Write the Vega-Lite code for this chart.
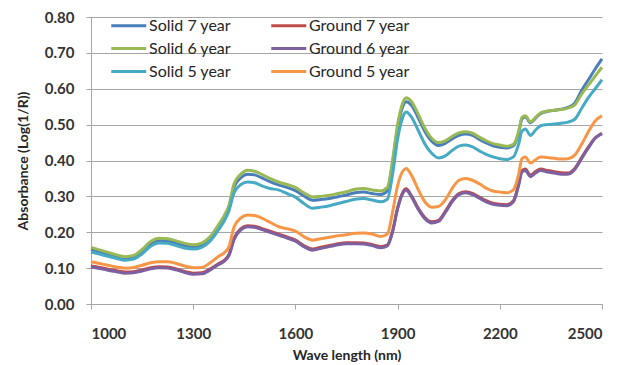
{
  "$schema": "https://vega.github.io/schema/vega-lite/v6.json",
  "width": 511,
  "height": 287,
  "autosize": "none",
  "padding": {"left": 91, "top": 17, "right": 18, "bottom": 61},
  "background": "white",
  "data": {
    "values": [
      {"nm": 1000, "Solid 7 year": 0.152, "Ground 7 year": 0.106, "Solid 6 year": 0.158, "Ground 6 year": 0.103, "Solid 5 year": 0.145, "Ground 5 year": 0.118},
      {"nm": 1025, "Solid 7 year": 0.145, "Ground 7 year": 0.102, "Solid 6 year": 0.151, "Ground 6 year": 0.099, "Solid 5 year": 0.139, "Ground 5 year": 0.113},
      {"nm": 1050, "Solid 7 year": 0.138, "Ground 7 year": 0.097, "Solid 6 year": 0.144, "Ground 6 year": 0.094, "Solid 5 year": 0.133, "Ground 5 year": 0.108},
      {"nm": 1075, "Solid 7 year": 0.131, "Ground 7 year": 0.093, "Solid 6 year": 0.137, "Ground 6 year": 0.090, "Solid 5 year": 0.127, "Ground 5 year": 0.103},
      {"nm": 1100, "Solid 7 year": 0.126, "Ground 7 year": 0.089, "Solid 6 year": 0.132, "Ground 6 year": 0.086, "Solid 5 year": 0.122, "Ground 5 year": 0.100},
      {"nm": 1125, "Solid 7 year": 0.129, "Ground 7 year": 0.090, "Solid 6 year": 0.135, "Ground 6 year": 0.087, "Solid 5 year": 0.125, "Ground 5 year": 0.102},
      {"nm": 1150, "Solid 7 year": 0.146, "Ground 7 year": 0.095, "Solid 6 year": 0.152, "Ground 6 year": 0.092, "Solid 5 year": 0.140, "Ground 5 year": 0.108},
      {"nm": 1175, "Solid 7 year": 0.167, "Ground 7 year": 0.101, "Solid 6 year": 0.174, "Ground 6 year": 0.098, "Solid 5 year": 0.161, "Ground 5 year": 0.115},
      {"nm": 1200, "Solid 7 year": 0.176, "Ground 7 year": 0.104, "Solid 6 year": 0.183, "Ground 6 year": 0.101, "Solid 5 year": 0.170, "Ground 5 year": 0.118},
      {"nm": 1225, "Solid 7 year": 0.175, "Ground 7 year": 0.103, "Solid 6 year": 0.182, "Ground 6 year": 0.100, "Solid 5 year": 0.169, "Ground 5 year": 0.118},
      {"nm": 1250, "Solid 7 year": 0.170, "Ground 7 year": 0.098, "Solid 6 year": 0.176, "Ground 6 year": 0.095, "Solid 5 year": 0.163, "Ground 5 year": 0.113},
      {"nm": 1275, "Solid 7 year": 0.163, "Ground 7 year": 0.091, "Solid 6 year": 0.169, "Ground 6 year": 0.088, "Solid 5 year": 0.156, "Ground 5 year": 0.106},
      {"nm": 1300, "Solid 7 year": 0.159, "Ground 7 year": 0.086, "Solid 6 year": 0.165, "Ground 6 year": 0.083, "Solid 5 year": 0.153, "Ground 5 year": 0.101},
      {"nm": 1325, "Solid 7 year": 0.164, "Ground 7 year": 0.087, "Solid 6 year": 0.170, "Ground 6 year": 0.084, "Solid 5 year": 0.158, "Ground 5 year": 0.102},
      {"nm": 1350, "Solid 7 year": 0.182, "Ground 7 year": 0.098, "Solid 6 year": 0.188, "Ground 6 year": 0.095, "Solid 5 year": 0.176, "Ground 5 year": 0.115},
      {"nm": 1375, "Solid 7 year": 0.215, "Ground 7 year": 0.113, "Solid 6 year": 0.222, "Ground 6 year": 0.110, "Solid 5 year": 0.208, "Ground 5 year": 0.133},
      {"nm": 1390, "Solid 7 year": 0.238, "Ground 7 year": 0.121, "Solid 6 year": 0.245, "Ground 6 year": 0.118, "Solid 5 year": 0.230, "Ground 5 year": 0.142},
      {"nm": 1405, "Solid 7 year": 0.268, "Ground 7 year": 0.138, "Solid 6 year": 0.275, "Ground 6 year": 0.135, "Solid 5 year": 0.260, "Ground 5 year": 0.160},
      {"nm": 1420, "Solid 7 year": 0.326, "Ground 7 year": 0.183, "Solid 6 year": 0.335, "Ground 6 year": 0.180, "Solid 5 year": 0.310, "Ground 5 year": 0.215},
      {"nm": 1440, "Solid 7 year": 0.352, "Ground 7 year": 0.210, "Solid 6 year": 0.362, "Ground 6 year": 0.207, "Solid 5 year": 0.333, "Ground 5 year": 0.240},
      {"nm": 1460, "Solid 7 year": 0.362, "Ground 7 year": 0.218, "Solid 6 year": 0.373, "Ground 6 year": 0.215, "Solid 5 year": 0.340, "Ground 5 year": 0.248},
      {"nm": 1480, "Solid 7 year": 0.360, "Ground 7 year": 0.217, "Solid 6 year": 0.370, "Ground 6 year": 0.214, "Solid 5 year": 0.338, "Ground 5 year": 0.247},
      {"nm": 1500, "Solid 7 year": 0.352, "Ground 7 year": 0.211, "Solid 6 year": 0.362, "Ground 6 year": 0.208, "Solid 5 year": 0.330, "Ground 5 year": 0.240},
      {"nm": 1525, "Solid 7 year": 0.341, "Ground 7 year": 0.203, "Solid 6 year": 0.350, "Ground 6 year": 0.200, "Solid 5 year": 0.322, "Ground 5 year": 0.228},
      {"nm": 1550, "Solid 7 year": 0.332, "Ground 7 year": 0.195, "Solid 6 year": 0.340, "Ground 6 year": 0.192, "Solid 5 year": 0.318, "Ground 5 year": 0.216},
      {"nm": 1575, "Solid 7 year": 0.325, "Ground 7 year": 0.187, "Solid 6 year": 0.333, "Ground 6 year": 0.184, "Solid 5 year": 0.308, "Ground 5 year": 0.210},
      {"nm": 1600, "Solid 7 year": 0.316, "Ground 7 year": 0.178, "Solid 6 year": 0.325, "Ground 6 year": 0.175, "Solid 5 year": 0.298, "Ground 5 year": 0.203},
      {"nm": 1625, "Solid 7 year": 0.301, "Ground 7 year": 0.163, "Solid 6 year": 0.310, "Ground 6 year": 0.160, "Solid 5 year": 0.280, "Ground 5 year": 0.188},
      {"nm": 1650, "Solid 7 year": 0.289, "Ground 7 year": 0.153, "Solid 6 year": 0.298, "Ground 6 year": 0.150, "Solid 5 year": 0.267, "Ground 5 year": 0.178},
      {"nm": 1675, "Solid 7 year": 0.291, "Ground 7 year": 0.158, "Solid 6 year": 0.300, "Ground 6 year": 0.155, "Solid 5 year": 0.270, "Ground 5 year": 0.182},
      {"nm": 1700, "Solid 7 year": 0.294, "Ground 7 year": 0.163, "Solid 6 year": 0.303, "Ground 6 year": 0.160, "Solid 5 year": 0.274, "Ground 5 year": 0.186},
      {"nm": 1725, "Solid 7 year": 0.299, "Ground 7 year": 0.168, "Solid 6 year": 0.308, "Ground 6 year": 0.165, "Solid 5 year": 0.280, "Ground 5 year": 0.190},
      {"nm": 1750, "Solid 7 year": 0.304, "Ground 7 year": 0.171, "Solid 6 year": 0.313, "Ground 6 year": 0.168, "Solid 5 year": 0.286, "Ground 5 year": 0.193},
      {"nm": 1775, "Solid 7 year": 0.310, "Ground 7 year": 0.171, "Solid 6 year": 0.320, "Ground 6 year": 0.168, "Solid 5 year": 0.292, "Ground 5 year": 0.197},
      {"nm": 1800, "Solid 7 year": 0.312, "Ground 7 year": 0.170, "Solid 6 year": 0.322, "Ground 6 year": 0.167, "Solid 5 year": 0.294, "Ground 5 year": 0.198},
      {"nm": 1825, "Solid 7 year": 0.308, "Ground 7 year": 0.166, "Solid 6 year": 0.318, "Ground 6 year": 0.163, "Solid 5 year": 0.290, "Ground 5 year": 0.195},
      {"nm": 1850, "Solid 7 year": 0.305, "Ground 7 year": 0.160, "Solid 6 year": 0.315, "Ground 6 year": 0.157, "Solid 5 year": 0.285, "Ground 5 year": 0.188},
      {"nm": 1870, "Solid 7 year": 0.315, "Ground 7 year": 0.165, "Solid 6 year": 0.325, "Ground 6 year": 0.162, "Solid 5 year": 0.292, "Ground 5 year": 0.195},
      {"nm": 1885, "Solid 7 year": 0.390, "Ground 7 year": 0.203, "Solid 6 year": 0.400, "Ground 6 year": 0.200, "Solid 5 year": 0.360, "Ground 5 year": 0.255},
      {"nm": 1900, "Solid 7 year": 0.490, "Ground 7 year": 0.268, "Solid 6 year": 0.500, "Ground 6 year": 0.265, "Solid 5 year": 0.460, "Ground 5 year": 0.330},
      {"nm": 1915, "Solid 7 year": 0.550, "Ground 7 year": 0.311, "Solid 6 year": 0.560, "Ground 6 year": 0.308, "Solid 5 year": 0.520, "Ground 5 year": 0.370},
      {"nm": 1925, "Solid 7 year": 0.564, "Ground 7 year": 0.321, "Solid 6 year": 0.575, "Ground 6 year": 0.318, "Solid 5 year": 0.535, "Ground 5 year": 0.378},
      {"nm": 1940, "Solid 7 year": 0.555, "Ground 7 year": 0.303, "Solid 6 year": 0.565, "Ground 6 year": 0.300, "Solid 5 year": 0.522, "Ground 5 year": 0.360},
      {"nm": 1960, "Solid 7 year": 0.520, "Ground 7 year": 0.268, "Solid 6 year": 0.530, "Ground 6 year": 0.265, "Solid 5 year": 0.485, "Ground 5 year": 0.320},
      {"nm": 1980, "Solid 7 year": 0.481, "Ground 7 year": 0.241, "Solid 6 year": 0.490, "Ground 6 year": 0.238, "Solid 5 year": 0.446, "Ground 5 year": 0.285},
      {"nm": 2000, "Solid 7 year": 0.454, "Ground 7 year": 0.229, "Solid 6 year": 0.462, "Ground 6 year": 0.226, "Solid 5 year": 0.420, "Ground 5 year": 0.270},
      {"nm": 2020, "Solid 7 year": 0.442, "Ground 7 year": 0.233, "Solid 6 year": 0.450, "Ground 6 year": 0.230, "Solid 5 year": 0.407, "Ground 5 year": 0.272},
      {"nm": 2040, "Solid 7 year": 0.448, "Ground 7 year": 0.258, "Solid 6 year": 0.455, "Ground 6 year": 0.255, "Solid 5 year": 0.413, "Ground 5 year": 0.290},
      {"nm": 2060, "Solid 7 year": 0.460, "Ground 7 year": 0.288, "Solid 6 year": 0.467, "Ground 6 year": 0.285, "Solid 5 year": 0.428, "Ground 5 year": 0.322},
      {"nm": 2080, "Solid 7 year": 0.470, "Ground 7 year": 0.308, "Solid 6 year": 0.477, "Ground 6 year": 0.305, "Solid 5 year": 0.440, "Ground 5 year": 0.345},
      {"nm": 2100, "Solid 7 year": 0.474, "Ground 7 year": 0.313, "Solid 6 year": 0.480, "Ground 6 year": 0.310, "Solid 5 year": 0.443, "Ground 5 year": 0.350},
      {"nm": 2120, "Solid 7 year": 0.470, "Ground 7 year": 0.308, "Solid 6 year": 0.476, "Ground 6 year": 0.305, "Solid 5 year": 0.438, "Ground 5 year": 0.345},
      {"nm": 2140, "Solid 7 year": 0.459, "Ground 7 year": 0.298, "Solid 6 year": 0.465, "Ground 6 year": 0.295, "Solid 5 year": 0.427, "Ground 5 year": 0.335},
      {"nm": 2160, "Solid 7 year": 0.449, "Ground 7 year": 0.288, "Solid 6 year": 0.455, "Ground 6 year": 0.285, "Solid 5 year": 0.417, "Ground 5 year": 0.323},
      {"nm": 2180, "Solid 7 year": 0.441, "Ground 7 year": 0.281, "Solid 6 year": 0.447, "Ground 6 year": 0.278, "Solid 5 year": 0.410, "Ground 5 year": 0.315},
      {"nm": 2200, "Solid 7 year": 0.437, "Ground 7 year": 0.278, "Solid 6 year": 0.443, "Ground 6 year": 0.275, "Solid 5 year": 0.405, "Ground 5 year": 0.312},
      {"nm": 2220, "Solid 7 year": 0.435, "Ground 7 year": 0.277, "Solid 6 year": 0.440, "Ground 6 year": 0.274, "Solid 5 year": 0.403, "Ground 5 year": 0.310},
      {"nm": 2240, "Solid 7 year": 0.441, "Ground 7 year": 0.288, "Solid 6 year": 0.445, "Ground 6 year": 0.285, "Solid 5 year": 0.410, "Ground 5 year": 0.318},
      {"nm": 2255, "Solid 7 year": 0.476, "Ground 7 year": 0.333, "Solid 6 year": 0.480, "Ground 6 year": 0.330, "Solid 5 year": 0.445, "Ground 5 year": 0.360},
      {"nm": 2265, "Solid 7 year": 0.516, "Ground 7 year": 0.371, "Solid 6 year": 0.520, "Ground 6 year": 0.368, "Solid 5 year": 0.482, "Ground 5 year": 0.405},
      {"nm": 2275, "Solid 7 year": 0.522, "Ground 7 year": 0.376, "Solid 6 year": 0.525, "Ground 6 year": 0.372, "Solid 5 year": 0.488, "Ground 5 year": 0.410},
      {"nm": 2290, "Solid 7 year": 0.505, "Ground 7 year": 0.359, "Solid 6 year": 0.508, "Ground 6 year": 0.355, "Solid 5 year": 0.470, "Ground 5 year": 0.393},
      {"nm": 2305, "Solid 7 year": 0.518, "Ground 7 year": 0.369, "Solid 6 year": 0.520, "Ground 6 year": 0.365, "Solid 5 year": 0.485, "Ground 5 year": 0.402},
      {"nm": 2320, "Solid 7 year": 0.531, "Ground 7 year": 0.376, "Solid 6 year": 0.533, "Ground 6 year": 0.372, "Solid 5 year": 0.497, "Ground 5 year": 0.410},
      {"nm": 2340, "Solid 7 year": 0.537, "Ground 7 year": 0.372, "Solid 6 year": 0.538, "Ground 6 year": 0.368, "Solid 5 year": 0.500, "Ground 5 year": 0.408},
      {"nm": 2360, "Solid 7 year": 0.540, "Ground 7 year": 0.369, "Solid 6 year": 0.540, "Ground 6 year": 0.365, "Solid 5 year": 0.502, "Ground 5 year": 0.406},
      {"nm": 2380, "Solid 7 year": 0.543, "Ground 7 year": 0.366, "Solid 6 year": 0.542, "Ground 6 year": 0.362, "Solid 5 year": 0.504, "Ground 5 year": 0.404},
      {"nm": 2400, "Solid 7 year": 0.548, "Ground 7 year": 0.365, "Solid 6 year": 0.546, "Ground 6 year": 0.362, "Solid 5 year": 0.507, "Ground 5 year": 0.405},
      {"nm": 2420, "Solid 7 year": 0.560, "Ground 7 year": 0.378, "Solid 6 year": 0.555, "Ground 6 year": 0.375, "Solid 5 year": 0.515, "Ground 5 year": 0.415},
      {"nm": 2440, "Solid 7 year": 0.595, "Ground 7 year": 0.408, "Solid 6 year": 0.585, "Ground 6 year": 0.405, "Solid 5 year": 0.545, "Ground 5 year": 0.445},
      {"nm": 2460, "Solid 7 year": 0.625, "Ground 7 year": 0.437, "Solid 6 year": 0.610, "Ground 6 year": 0.435, "Solid 5 year": 0.575, "Ground 5 year": 0.480},
      {"nm": 2480, "Solid 7 year": 0.655, "Ground 7 year": 0.463, "Solid 6 year": 0.635, "Ground 6 year": 0.462, "Solid 5 year": 0.600, "Ground 5 year": 0.510},
      {"nm": 2500, "Solid 7 year": 0.683, "Ground 7 year": 0.476, "Solid 6 year": 0.660, "Ground 6 year": 0.475, "Solid 5 year": 0.625, "Ground 5 year": 0.525}
    ]
  },
  "transform": [
    {
      "fold": ["Solid 7 year", "Ground 7 year", "Solid 6 year", "Ground 6 year", "Solid 5 year", "Ground 5 year"],
      "as": ["sample", "absorbance"]
    }
  ],
  "mark": {"type": "line", "strokeWidth": 3, "interpolate": "monotone"},
  "encoding": {
    "x": {
      "field": "nm",
      "type": "quantitative",
      "scale": {"domain": [1000, 2500], "nice": false, "zero": false},
      "axis": {
        "title": "Wave length (nm)",
        "values": [1000, 1300, 1600, 1900, 2200, 2500],
        "format": "d",
        "grid": false,
        "labelPadding": 17,
        "titlePadding": 7
      }
    },
    "y": {
      "field": "absorbance",
      "type": "quantitative",
      "scale": {"domain": [0, 0.8], "nice": false},
      "axis": {
        "title": "Absorbance (Log(1/R))",
        "values": [0, 0.1, 0.2, 0.3, 0.4, 0.5, 0.6, 0.7, 0.8],
        "format": ".2f",
        "grid": true,
        "labelPadding": 12,
        "titlePadding": 14
      }
    },
    "color": {
      "field": "sample",
      "type": "nominal",
      "scale": {
        "domain": ["Solid 7 year", "Solid 6 year", "Solid 5 year", "Ground 7 year", "Ground 6 year", "Ground 5 year"],
        "range": ["#4a7ebb", "#98b954", "#46aac5", "#be4b48", "#7d60a0", "#f79646"]
      },
      "legend": {
        "title": null,
        "orient": "none",
        "legendX": 36,
        "legendY": -2,
        "columns": 2,
        "symbolType": "M-3,0H1",
        "symbolSize": 306,
        "symbolStrokeWidth": 3,
        "labelFont": "Lato",
        "labelFontSize": 16,
        "labelColor": "#262626",
        "labelOffset": 1,
        "rowPadding": 4,
        "columnPadding": 34
      }
    }
  },
  "config": {
    "view": {"stroke": null},
    "axis": {
      "labelFont": "Lato",
      "labelFontSize": 15,
      "labelFontWeight": "bold",
      "labelColor": "#333333",
      "titleFont": "Lato",
      "titleFontSize": 14,
      "titleFontWeight": "bold",
      "titleColor": "#262626",
      "domainColor": "#a6a6a6",
      "tickColor": "#a6a6a6",
      "gridColor": "#a6a6a6",
      "gridWidth": 1,
      "domainWidth": 1,
      "tickSize": 5
    }
  }
}
